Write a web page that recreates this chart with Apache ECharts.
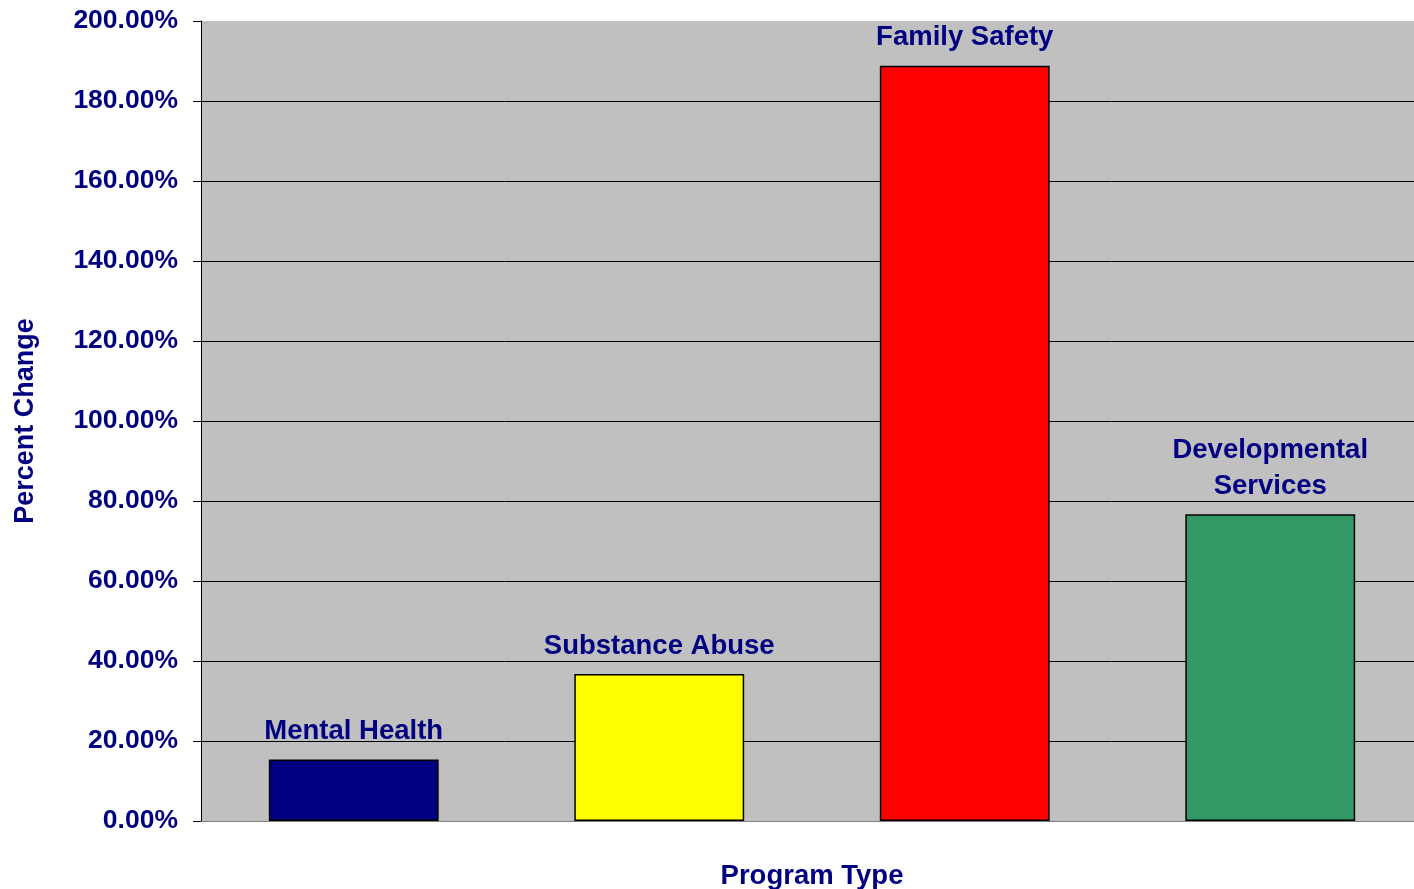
<!DOCTYPE html>
<html>
<head>
<meta charset="utf-8">
<script src="https://cdn.jsdelivr.net/npm/echarts@6/dist/echarts.min.js"></script>
<style>html,body{margin:0;padding:0;background:#fff}#c{width:1414px;height:889px}</style>
</head>
<body>
<div id="c"></div>
<script>
const categories = ['Mental Health', 'Substance Abuse', 'Family Safety', 'Developmental\nServices'];
const values = [15.4, 36.75, 188.8, 76.7];
const barColors = ['#000080', '#FFFF00', '#FF0000', '#339966'];
const yTicks = [0, 20, 40, 60, 80, 100, 120, 140, 160, 180, 200];

const font = 'Liberation Sans, Arial, sans-serif';
const navy = '#000080';
const gridColors = yTicks.map((t, i) => i === 0 ? '#808080' : (i === yTicks.length - 1 ? '#C0C0C0' : '#000000'));

const chart = echarts.init(document.getElementById('c'), null, {renderer: 'canvas'});
chart.setOption({
  backgroundColor: '#ffffff',
  animation: false,
  grid: {left: 201, right: -9, top: 21, bottom: 68, show: true, backgroundColor: '#C0C0C0', borderWidth: 0,
         containLabel: false, outerBoundsMode: 'none'},
  xAxis: {
    type: 'category',
    data: categories,
    name: 'Program Type',
    nameLocation: 'middle',
    nameGap: 41,
    nameTextStyle: {color: navy, fontFamily: font, fontWeight: 'bold', fontSize: 27.5, padding: [0, 0, 0, 0]},
    axisLine: {show: true, lineStyle: {color: '#808080', width: 1}},
    axisTick: {show: false},
    axisLabel: {show: false}
  },
  yAxis: {
    type: 'value',
    min: 0,
    max: 200,
    interval: 20,
    name: 'Percent Change',
    nameLocation: 'middle',
    nameGap: 162,
    nameRotate: 90,
    nameTextStyle: {color: navy, fontFamily: font, fontWeight: 'bold', fontSize: 27},
    axisLine: {show: true, lineStyle: {color: '#000000', width: 1}},
    axisTick: {show: true, length: 8, lineStyle: {color: '#000000'}},
    axisLabel: {
      margin: 23,
      padding: [4, 0, 0, 0],
      color: navy, fontFamily: font, fontWeight: 'bold', fontSize: 26.5,
      formatter: v => v.toFixed(2) + '%'
    },
    splitLine: {show: true, lineStyle: {color: gridColors, width: 1}}
  },
  series: [{
    type: 'bar',
    barWidth: '55.6%',
    data: values.map((v, i) => ({value: v, itemStyle: {color: barColors[i]}})),
    itemStyle: {borderColor: '#000000', borderWidth: 1.5},
    label: {
      show: true,
      position: 'top',
      distance: 10,
      formatter: p => categories[p.dataIndex],
      color: navy, fontFamily: font, fontWeight: 'bold', fontSize: 27.5,
      lineHeight: 36
    }
  }]
});
</script>
</body>
</html>
